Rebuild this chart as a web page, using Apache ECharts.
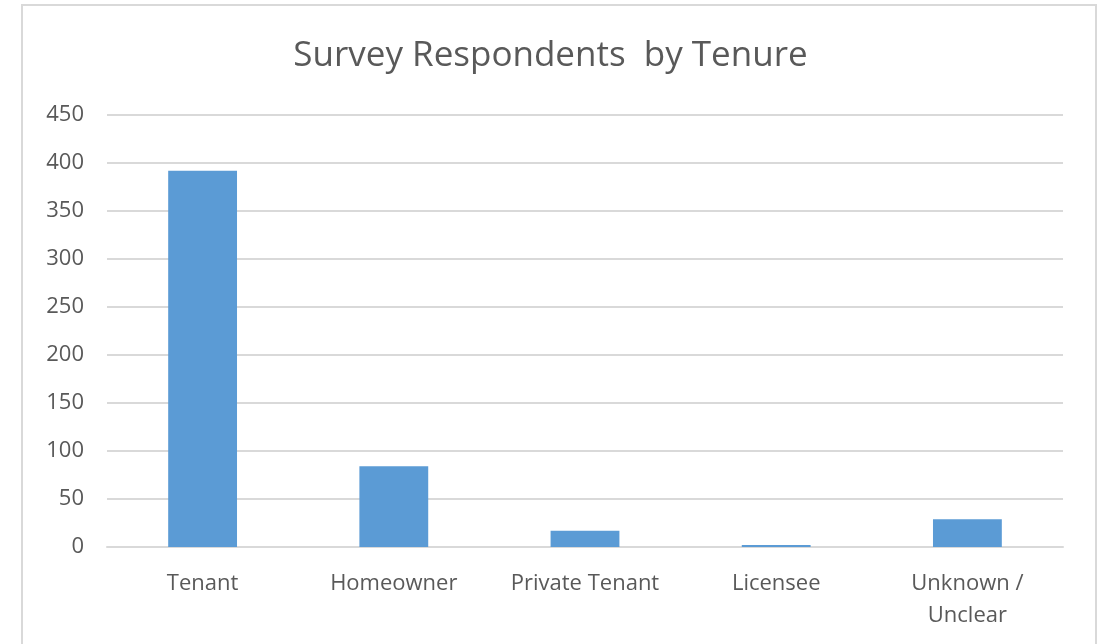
<!DOCTYPE html>
<html>
<head>
<meta charset="utf-8">
<script src="https://cdn.jsdelivr.net/npm/echarts@6/dist/echarts.min.js"></script>
<style>
  html, body { margin: 0; padding: 0; background: #fff; }
  #chart { width: 1101px; height: 644px; }
</style>
</head>
<body>
<div id="chart"></div>
<script>
const categories = ['Tenant', 'Homeowner', 'Private Tenant', 'Licensee', 'Unknown /\nUnclear']
const respondents = [392, 84, 17, 2, 29]
const yTicks = { min: 0, max: 450, interval: 50 }

const chart = echarts.init(document.getElementById('chart'))
const textColor = '#595959'
const gridColor = '#d9d9d9'

chart.setOption({
  animation: false,
  title: {
    text: 'Survey Respondents  by Tenure',
    left: 'center',
    top: 34,
    textStyle: {
      color: textColor,
      fontFamily: 'Open Sans',
      fontWeight: 'normal',
      fontSize: 35
    }
  },
  graphic: [{
    type: 'rect',
    shape: { x: 22, y: 5, width: 1074, height: 700 },
    style: { fill: 'none', stroke: gridColor, lineWidth: 2 },
    silent: true
  }],
  grid: {
    top: 115,
    left: 107,
    right: 38,
    bottom: 97
  },
  xAxis: {
    type: 'category',
    data: categories,
    axisLine: { lineStyle: { color: gridColor, width: 2 } },
    axisTick: { show: false },
    axisLabel: {
      color: textColor,
      fontFamily: 'Open Sans',
      fontSize: 22,
      margin: 21,
      lineHeight: 32,
      interval: 0
    }
  },
  yAxis: {
    type: 'value',
    min: yTicks.min,
    max: yTicks.max,
    interval: yTicks.interval,
    axisLine: { show: false },
    axisTick: { show: false },
    splitLine: { lineStyle: { color: gridColor, width: 2 } },
    axisLabel: {
      color: textColor,
      fontFamily: 'Open Sans',
      fontSize: 22,
      margin: 23,
      padding: [4, 0, 0, 0]
    }
  },
  series: [{
    name: 'Respondents',
    type: 'bar',
    data: respondents,
    barWidth: '36%',
    itemStyle: { color: '#5b9bd5' }
  }]
})
</script>
</body>
</html>
